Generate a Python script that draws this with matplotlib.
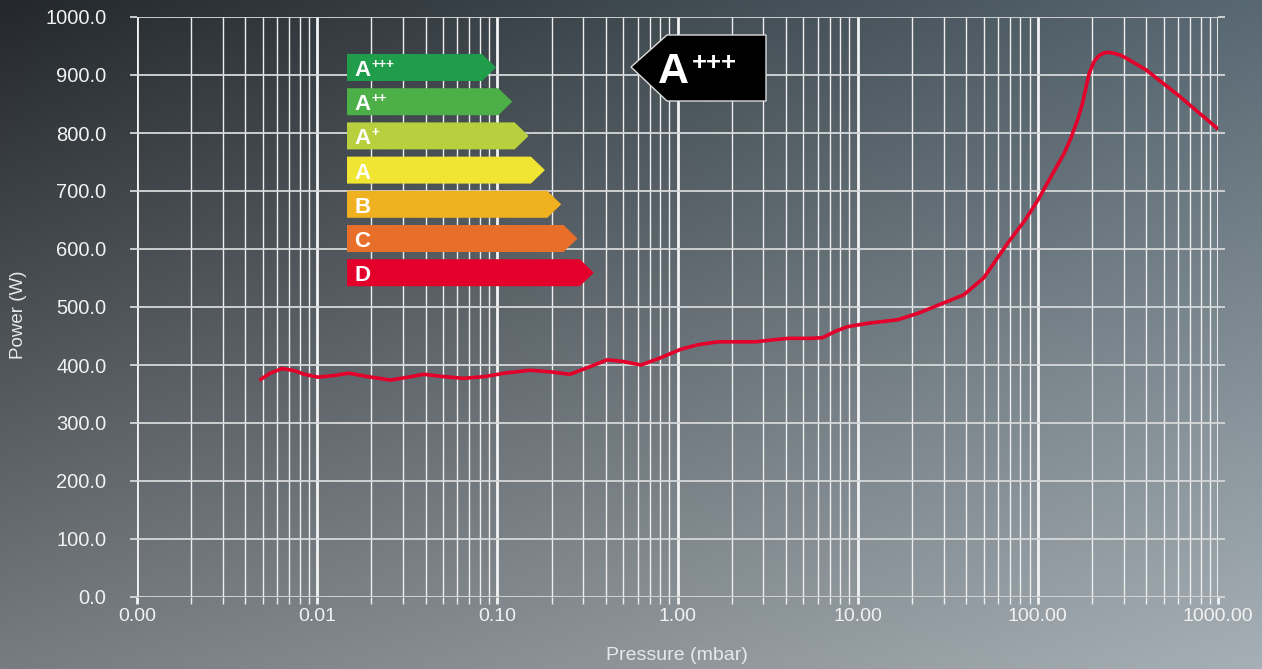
import numpy as np
import matplotlib
matplotlib.use("Agg")
import matplotlib.pyplot as plt
from matplotlib.patches import Polygon
from matplotlib.ticker import FixedLocator, LogLocator, NullFormatter

# curve: pressure (mbar) and power (W)
pressure = [0.00485, 0.0055, 0.0064, 0.0075, 0.0085, 0.0101, 0.0125, 0.015, 0.019,
            0.0256, 0.032, 0.0392, 0.05, 0.065, 0.085, 0.11, 0.152, 0.2, 0.253,
            0.32, 0.408, 0.5, 0.627, 0.8, 1.04, 1.3, 1.68, 2.71, 3.3, 4.14, 5.5,
            6.37, 7.5, 8.77, 11.4, 16.7, 22, 30, 38.8, 50, 68, 85, 100, 118, 140,
            152, 165, 177, 186, 193, 205, 218, 232, 249, 268, 289, 330, 398, 597, 1000]
power = [375, 386, 394, 390, 384, 379, 382, 386, 380,
         374, 379, 384, 380, 377, 380, 386, 391, 388, 384,
         396, 409, 406, 400, 412, 427, 435, 440, 440, 443, 446, 446,
         447, 458, 466, 472, 478, 490, 507, 521, 550, 610, 650, 684, 724, 765,
         790, 820, 851, 882, 903, 923, 933, 938, 939, 937, 934, 924, 909, 866, 807]

x_ticks = [0.001, 0.01, 0.1, 1, 10, 100, 1000]
x_labels = ["0.00", "0.01", "0.10", "1.00", "10.00", "100.00", "1000.00"]
y_ticks = [0, 100, 200, 300, 400, 500, 600, 700, 800, 900, 1000]
y_labels = ["%.1f" % v for v in y_ticks]

# energy label classes
classes = ["A", "A", "A", "A", "B", "C", "D"]
class_sup = ["+++", "++", "+", "", "", "", ""]
class_colors = ["#1f9d4b", "#4daf48", "#b8cf3e", "#efe532", "#efb11f", "#e76f29", "#e3002b"]

W, H = 1262, 669
fig = plt.figure(figsize=(W / 100, H / 100), dpi=100)
plt.rcParams['font.family'] = ['Liberation Sans', 'DejaVu Sans']

# background gradient
bg = fig.add_axes([0, 0, 1, 1], zorder=0)
tl = np.array([36, 40, 44]); tr = np.array([88, 104, 114])
bl = np.array([118, 124, 128]); br = np.array([166, 175, 181])
u = np.linspace(0, 1, 200)[None, :, None]
v = np.linspace(0, 1, 120)[:, None, None]
img = (1 - v) * ((1 - u) * tl + u * tr) + v * ((1 - u) * bl + u * br)
bg.imshow(img / 255.0, aspect='auto', extent=[0, 1, 0, 1], interpolation='bilinear')
bg.axis('off')

ax = fig.add_axes([137 / W, 1 - 597 / H, (1218 - 137) / W, (597 - 17) / H], zorder=1)
ax.patch.set_alpha(0)
ax.set_xscale('log')
ax.set_xlim(0.001, 1000)
ax.set_ylim(0, 1000)
for s in ax.spines.values():
    s.set_visible(False)

ax.xaxis.set_major_locator(FixedLocator(x_ticks))
ax.set_xticklabels(x_labels)
ax.xaxis.set_minor_locator(LogLocator(base=10, subs=np.arange(2, 10)))
ax.xaxis.set_minor_formatter(NullFormatter())
ax.set_yticks(y_ticks)
ax.set_yticklabels(y_labels)

ax.grid(True, which='major', axis='x', color='#f4f4f4', lw=2.0)
ax.grid(True, which='minor', axis='x', color='#eeeeee', lw=1.0)
ax.grid(True, which='major', axis='y', color='#d6d8d9', lw=1.3)
ax.tick_params(axis='x', which='major', length=5, width=2.0, color='#f4f4f4',
               labelsize=14, labelcolor='#f2f2f2', pad=3)
ax.tick_params(axis='x', which='minor', length=5, width=1.0, color='#eeeeee')
ax.tick_params(axis='y', length=5, width=1.3, color='#d6d8d9', right=True,
               labelsize=14.5, labelcolor='#f2f2f2', pad=17)

ax.plot(pressure, power, color='#e3002b', lw=2.6, solid_capstyle='round',
        solid_joinstyle='round', zorder=3)

fig.text(19 / W, 1 - 315 / H, "Power (W)", rotation=90, ha='center', va='center',
         fontsize=13.5, color='#e8e8e8')
fig.text(677 / W, 1 - 655 / H, "Pressure (mbar)", ha='center', va='center',
         fontsize=14, color='#e8e8e8')

# overlay in pixel coordinates for the label graphics
ov = fig.add_axes([0, 0, 1, 1], zorder=2)
ov.set_xlim(0, W)
ov.set_ylim(H, 0)
ov.axis('off')

x0 = 347
for i, (c, sup, col) in enumerate(zip(classes, class_sup, class_colors)):
    top = 54 + i * 34.2
    bot = top + 27
    end = 482 + i * 16.3
    tip = end + 14
    ov.add_patch(Polygon([(x0, top), (end, top), (tip, (top + bot) / 2), (end, bot), (x0, bot)],
                         closed=True, facecolor=col, edgecolor='none'))
    ov.text(354, bot - 5, c, fontsize=16, fontweight='bold', color='white', va='baseline')
    if sup:
        ov.text(371, top + 11, sup, fontsize=9.5, fontweight='bold', color='white', va='center')

ov.add_patch(Polygon([(631, 67), (667, 35), (766, 35), (766, 101), (667, 101)], closed=True,
                     facecolor='black', edgecolor='#dddddd', lw=1.0))
ov.text(658, 83, "A", fontsize=31, fontweight='bold', color='white', va='baseline')
ov.text(692, 63, "+++", fontsize=18.5, fontweight='bold', color='white', va='center')

fig.savefig("out.png", dpi=100)
